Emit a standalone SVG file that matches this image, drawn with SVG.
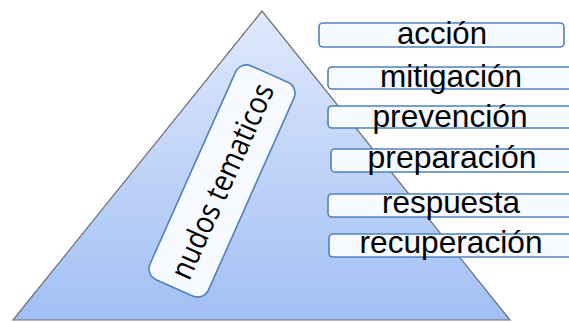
<svg xmlns="http://www.w3.org/2000/svg" width="569" height="322" viewBox="0 0 569 322">
<defs>
<linearGradient id="tri" x1="0" y1="0" x2="0" y2="1">
<stop offset="0" stop-color="#dfe9fc"/>
<stop offset="1" stop-color="#a2bff4"/>
</linearGradient>
<style>
.box{fill:#f7faff;stroke:#4f81bd;stroke-width:1.6}
.lbl{font-family:"Liberation Sans",Arial,sans-serif;font-size:32px;fill:#000;text-anchor:middle}
.rot{font-family:"Open Sans","Noto Sans",sans-serif;font-size:31px;fill:#000;text-anchor:middle}
</style>
</defs>
<rect width="569" height="322" fill="#fff"/>
<g id="piramide">
<polygon points="262,11 13,320 510,320" fill="url(#tri)" stroke="#6f6f6f" stroke-width="1.2"/>
</g>
<g id="nudos">
<g transform="translate(222,181) rotate(-66)">
<rect x="-117" y="-32" width="234" height="64" rx="12" class="box"/>
<text class="rot" x="0" y="11" textLength="210" lengthAdjust="spacingAndGlyphs">nudos tematicos</text>
</g>
</g>
<g id="accion">
<rect class="box" x="319" y="23" width="245" height="24" rx="4"/>
<text class="lbl" x="442" y="44" textLength="90" lengthAdjust="spacingAndGlyphs">acción</text>
</g>
<g id="mitigacion">
<rect class="box" x="328" y="67" width="250" height="22" rx="4"/>
<text class="lbl" x="451" y="87" textLength="142" lengthAdjust="spacingAndGlyphs">mitigación</text>
</g>
<g id="prevencion">
<rect class="box" x="328" y="106" width="250" height="22" rx="4"/>
<text class="lbl" x="450" y="127" textLength="155" lengthAdjust="spacingAndGlyphs">prevención</text>
</g>
<g id="preparacion">
<rect class="box" x="331" y="149" width="250" height="23" rx="4"/>
<text class="lbl" x="452" y="168" textLength="169" lengthAdjust="spacingAndGlyphs">preparación</text>
</g>
<g id="respuesta">
<rect class="box" x="328" y="194" width="250" height="23" rx="4"/>
<text class="lbl" x="451" y="213" textLength="138" lengthAdjust="spacingAndGlyphs">respuesta</text>
</g>
<g id="recuperacion">
<rect class="box" x="329" y="234" width="250" height="23" rx="4"/>
<text class="lbl" x="451" y="253" textLength="183" lengthAdjust="spacingAndGlyphs">recuperación</text>
</g>
<g id="connectors"/>
</svg>
